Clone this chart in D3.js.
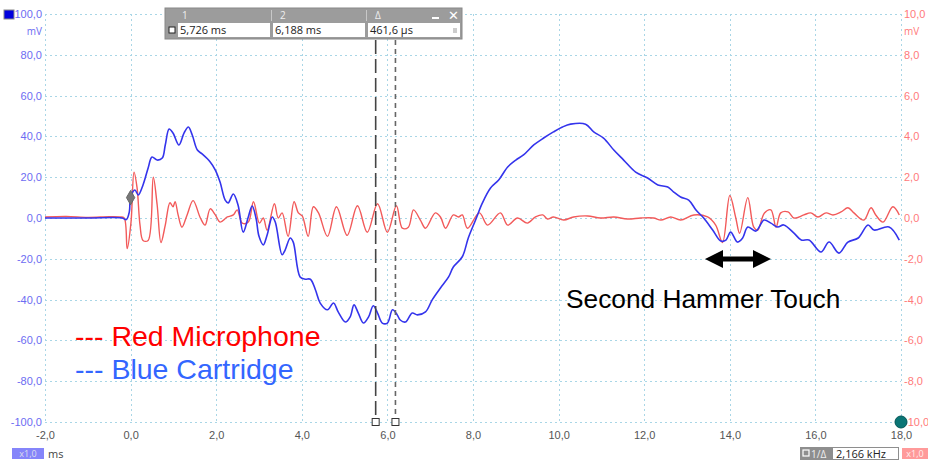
<!DOCTYPE html>
<html>
<head>
<meta charset="utf-8">
<script src="https://cdn.jsdelivr.net/npm/d3@7"></script>
<style>
  body { margin: 0; background: #fff; }
  svg { display: block; }
</style>
</head>
<body>
<div id="chart"></div>
<script>
// ----- data -----
const timeTicks = [-2, 0, 2, 4, 6, 8, 10, 12, 14, 16, 18];
const blueTicks = [100, 80, 60, 40, 20, 0, -20, -40, -60, -80, -100];
const redTicks = [10, 8, 6, 4, 2, 0, -2, -4, -6, -8, -10];

// blue cartridge, [ms, mV]
const blueSeries = [
  [-2.0, 0], [-1.0, 0], [-0.2, 0], [-0.1, -0.8], [-0.03, 3], [0.0, 10], [0.1, 13.7], [0.18, 11.3],
  [0.29, 16.2], [0.41, 24.5], [0.5, 29.9], [0.62, 28.4], [0.74, 29.4], [0.81, 35.8], [0.9, 43.6],
  [0.99, 41.7], [1.13, 35.8], [1.25, 41.7], [1.35, 44.6], [1.44, 40.7], [1.56, 33.3], [1.67, 31.4],
  [1.86, 27.5], [1.98, 23.5], [2.09, 17.6], [2.21, 8.8], [2.28, 7.4], [2.4, 11.8], [2.51, 6.4],
  [2.63, -6.9], [2.75, 0.5], [2.84, 5.9], [2.93, 0], [3.0, -9], [3.1, -13.2], [3.19, -8.3],
  [3.31, 0.5], [3.38, -2], [3.54, -18], [3.61, -15.7], [3.73, -9.8], [3.8, -11.8], [3.96, -28.9],
  [4.08, -30], [4.2, -30], [4.32, -35.3], [4.43, -41.7], [4.6, -45], [4.74, -41.7], [4.85, -46],
  [5.02, -51], [5.13, -48.5], [5.22, -42.6], [5.32, -46.6], [5.44, -51.5], [5.56, -48.5],
  [5.67, -43], [5.77, -46.6], [5.88, -51.5], [6.0, -51.5], [6.12, -45], [6.23, -47.5], [6.3, -50],
  [6.42, -51], [6.58, -46.6], [6.7, -47.5], [6.89, -46], [7.05, -40], [7.24, -34.3], [7.43, -28.9],
  [7.54, -24], [7.75, -19], [7.89, -9.8], [8.06, -1], [8.22, 7.4], [8.41, 14.7], [8.6, 18.6],
  [8.81, 25], [9.0, 28.4], [9.18, 30.9], [9.42, 35.8], [9.65, 39.2], [9.88, 42.2], [10.09, 44.6],
  [10.28, 46], [10.63, 46], [10.82, 42.2], [11.05, 39.2], [11.29, 33.3], [11.52, 28.4],
  [11.8, 22.5], [12.08, 19.6], [12.32, 16.2], [12.55, 15.2], [12.69, 12.7], [12.85, 10.3],
  [13.04, 8.8], [13.21, 3.9], [13.39, 0], [13.6, -5.9], [13.79, -11.3], [13.91, -10.8],
  [14.02, -6.9], [14.18, -11.8], [14.3, -9.8], [14.42, -4.4], [14.61, -6.4], [14.8, -1],
  [14.96, -2.5], [15.12, -4.4], [15.26, -3.4], [15.5, -7.4], [15.67, -10.8], [15.85, -10.8],
  [16.13, -16.7], [16.32, -11.8], [16.55, -17.2], [16.76, -11.8], [17.0, -9.8], [17.23, -3.4],
  [17.37, -5.9], [17.72, -4.4], [17.96, -10.8]
];

// red microphone, [ms, mV]
const redSeries = [
  [-2.0, 0.05], [-1.5, 0.08], [-1.0, 0.03], [-0.5, 0.06], [-0.25, 0.05], [-0.15, 0], [-0.08, -1.5],
  [0.01, -0.2], [0.08, 2.25], [0.15, 1.5], [0.22, -0.35], [0.29, -1.1], [0.41, -1.1], [0.53, 2.0],
  [0.62, 0.65], [0.71, -1.2], [0.81, -0.35], [0.92, 0.75], [0.99, 0.55], [1.04, 0.8], [1.11, 0.15],
  [1.2, -0.45], [1.32, 0.15], [1.46, 0.85], [1.63, 0], [1.74, -0.35], [1.86, 0.45], [1.98, 0.15],
  [2.09, -0.2], [2.26, 0.05], [2.4, 0.15], [2.49, 0.4], [2.61, -0.25], [2.75, -0.2], [2.87, 0.8],
  [3.01, -0.25], [3.1, 0], [3.19, -0.6], [3.36, 0.7], [3.45, 0], [3.54, 0.25], [3.68, -0.9],
  [3.82, 0.8], [3.92, 0.25], [4.01, 0.1], [4.15, -0.9], [4.27, 0.55], [4.39, 0.25], [4.6, -0.9],
  [4.81, 0.55], [5.06, -0.85], [5.3, 0.6], [5.53, -0.7], [5.77, 0.7], [6.0, -0.7], [6.21, 0.6],
  [6.35, -0.5], [6.49, -0.45], [6.61, 0.4], [6.77, -0.1], [6.89, -0.5], [7.12, 0.25], [7.24, 0.05],
  [7.36, -0.5], [7.54, 0.15], [7.66, 0.05], [7.75, 0.15], [7.87, -0.5], [8.15, 0.25], [8.34, -0.35],
  [8.64, 0.25], [8.81, -0.35], [9.04, 0], [9.27, -0.25], [9.46, 0.05], [9.63, 0.15], [9.74, -0.05],
  [9.88, 0.05], [10.12, -0.1], [10.35, 0.05], [10.68, 0.1], [10.98, 0], [11.29, 0.05],
  [11.61, -0.05], [11.92, 0], [12.22, 0], [12.39, -0.1], [12.62, 0.05], [12.85, -0.1], [13.16, 0.15],
  [13.48, 0.05], [13.67, -0.35], [13.83, -1.2], [14.0, 1.1], [14.14, 0], [14.23, -0.75], [14.42, 1.0],
  [14.56, -0.45], [14.65, -0.6], [14.81, 0.25], [14.96, 0.4], [15.08, -0.45], [15.19, 0.25],
  [15.36, 0.3], [15.5, 0], [15.73, 0.15], [15.89, 0.25], [16.06, 0.05], [16.25, 0.25], [16.41, 0.15],
  [16.6, 0.3], [16.76, 0.5], [16.9, 0.25], [17.13, -0.1], [17.3, 0.5], [17.41, 0.15], [17.58, -0.2],
  [17.81, 0.55], [17.96, 0.15]
];

const cursorTimes = [5.726, 6.188];
const cursorTable = ['5,726 ms', '6,188 ms', '461,6 µs'];
const freqLabel = '2,166 kHz';

// ----- layout -----
const width = 928;
const height = 460;
const margin = { top: 14, right: 27, bottom: 38, left: 45 };

const fmt = (v) => d3.format('.1f')(v).replace('.', ',').replace('−', '-');

const x = d3.scaleLinear().domain([-2, 18]).range([margin.left, width - margin.right]);
const yBlue = d3.scaleLinear().domain([-100, 100]).range([height - margin.bottom, margin.top]);
const yRed = d3.scaleLinear().domain([-10, 10]).range([height - margin.bottom, margin.top]);

const svg = d3.select('#chart')
  .append('svg')
  .attr('width', width)
  .attr('height', height)
  .style('font-family', '"Open Sans", "DejaVu Sans", sans-serif');

// grid
const grid = svg.append('g')
  .attr('stroke', '#a9d6e6')
  .attr('stroke-width', 1)
  .attr('stroke-dasharray', '2,3');

grid.selectAll('line.v')
  .data(timeTicks)
  .join('line')
  .attr('class', 'v')
  .attr('x1', d => Math.round(x(d)) + 0.5)
  .attr('x2', d => Math.round(x(d)) + 0.5)
  .attr('y1', yBlue(100))
  .attr('y2', yBlue(-100));

grid.selectAll('line.h')
  .data(blueTicks)
  .join('line')
  .attr('class', 'h')
  .attr('x1', x(-2))
  .attr('x2', x(18))
  .attr('y1', d => Math.round(yBlue(d)) + 0.5)
  .attr('y2', d => Math.round(yBlue(d)) + 0.5);

// left axis (blue)
const leftAxis = d3.axisLeft(yBlue).tickValues(blueTicks).tickFormat(fmt).tickSize(0).tickPadding(3);
const gLeft = svg.append('g')
  .attr('transform', `translate(${margin.left},0)`)
  .call(leftAxis);
gLeft.select('.domain').remove();
gLeft.selectAll('text')
  .attr('fill', '#6c6cf2')
  .attr('font-size', 11);

svg.append('text')
  .attr('x', margin.left - 3)
  .attr('y', yBlue(100) + 21)
  .attr('text-anchor', 'end')
  .attr('fill', '#6c6cf2')
  .attr('font-size', 10)
  .text('mV');

svg.append('rect')
  .attr('x', 4)
  .attr('y', 10)
  .attr('width', 10)
  .attr('height', 9)
  .attr('fill', '#0000dd')
  .attr('stroke', '#888')
  .attr('stroke-width', 1);

// right axis (red)
const rightAxis = d3.axisRight(yRed).tickValues(redTicks).tickFormat(fmt).tickSize(0).tickPadding(3);
const gRight = svg.append('g')
  .attr('transform', `translate(${width - margin.right},0)`)
  .call(rightAxis);
gRight.select('.domain').remove();
gRight.selectAll('text')
  .attr('fill', '#ff7a7a')
  .attr('font-size', 11);

svg.append('text')
  .attr('x', width - margin.right + 3)
  .attr('y', yRed(10) + 21)
  .attr('fill', '#ff7a7a')
  .attr('font-size', 10)
  .text('mV');

// bottom axis (time)
const bottomAxis = d3.axisBottom(x).tickValues(timeTicks).tickFormat(fmt).tickSize(0).tickPadding(9);
const gBottom = svg.append('g')
  .attr('transform', `translate(0,${height - margin.bottom})`)
  .call(bottomAxis);
gBottom.select('.domain').remove();
gBottom.selectAll('text')
  .attr('fill', '#555')
  .attr('font-size', 11);

// traces
const redLine = d3.line()
  .x(d => x(d[0]))
  .y(d => yRed(d[1]))
  .curve(d3.curveCatmullRom.alpha(0.5));

const blueLine = d3.line()
  .x(d => x(d[0]))
  .y(d => yBlue(d[1]))
  .curve(d3.curveCatmullRom.alpha(0.5));

svg.append('path')
  .datum(redSeries)
  .attr('fill', 'none')
  .attr('stroke', '#f25a5a')
  .attr('stroke-width', 1.4)
  .attr('stroke-linejoin', 'round')
  .attr('d', redLine);

svg.append('path')
  .datum(blueSeries)
  .attr('fill', 'none')
  .attr('stroke', '#3434ec')
  .attr('stroke-width', 1.6)
  .attr('stroke-linejoin', 'round')
  .attr('d', blueLine);

// trigger marker
svg.append('path')
  .attr('d', d3.symbol(d3.symbolDiamond, 60)())
  .attr('transform', `translate(${x(0)},${yBlue(10)})`)
  .attr('fill', '#777')
  .attr('stroke', '#666');

// cursors
const dashes = ['14,5', '5,4'];
svg.selectAll('line.cursor')
  .data(cursorTimes)
  .join('line')
  .attr('class', 'cursor')
  .attr('x1', d => x(d))
  .attr('x2', d => x(d))
  .attr('y1', 40)
  .attr('y2', yBlue(-100))
  .attr('stroke', (d, i) => i === 0 ? '#444' : '#666')
  .attr('stroke-width', 1.6)
  .attr('stroke-dasharray', (d, i) => dashes[i]);

svg.selectAll('rect.cursorMark')
  .data(cursorTimes)
  .join('rect')
  .attr('class', 'cursorMark')
  .attr('x', d => x(d) - 3.5)
  .attr('y', yBlue(-100) - 3.5)
  .attr('width', 7)
  .attr('height', 7)
  .attr('fill', '#fff')
  .attr('stroke', '#333');

// cursor table
const tbl = svg.append('g').attr('transform', 'translate(165,8)');
tbl.append('rect')
  .attr('width', 297)
  .attr('height', 31)
  .attr('fill', '#9c9c9c')
  .attr('stroke', '#888');
const colX = [0, 108, 203];
const colW = [105, 92, 92];
['1', '2', 'Δ'].forEach((h, i) => {
  tbl.append('text')
    .attr('x', colX[i] + (i === 0 ? 17 : 7))
    .attr('y', 11)
    .attr('fill', '#eee')
    .attr('font-size', 10)
    .text(h);
  if (i > 0) {
    tbl.append('line')
      .attr('x1', colX[i] - 1.5).attr('x2', colX[i] - 1.5)
      .attr('y1', 2).attr('y2', 13)
      .attr('stroke', '#c8c8c8');
  }
});
tbl.append('rect').attr('x', 267).attr('y', 9).attr('width', 7).attr('height', 2).attr('fill', '#fff');
tbl.append('text')
  .attr('x', 283).attr('y', 12)
  .attr('fill', '#fff').attr('font-size', 13).attr('font-weight', 'bold')
  .text('✕');
tbl.append('rect')
  .attr('x', 4).attr('y', 19).attr('width', 6).attr('height', 6)
  .attr('fill', '#fff').attr('stroke', '#222');
cursorTable.forEach((t, i) => {
  const cx = i === 0 ? 13 : colX[i];
  const cw = i === 0 ? colW[0] - 13 : colW[i];
  tbl.append('rect')
    .attr('x', cx).attr('y', 15).attr('width', cw).attr('height', 14)
    .attr('fill', '#fff');
  tbl.append('text')
    .attr('x', cx + 2).attr('y', 26)
    .attr('fill', '#222').attr('font-size', 11)
    .text(t);
});
tbl.append('rect').attr('x', 288).attr('y', 20).attr('width', 4).attr('height', 5).attr('fill', '#ccc');

// annotations
svg.append('text')
  .attr('x', 75).attr('y', 346)
  .attr('fill', '#ff0000')
  .attr('font-family', '"Liberation Sans", Arial, sans-serif')
  .attr('font-size', 28.5)
  .text('--- Red Microphone');

svg.append('text')
  .attr('x', 75).attr('y', 379)
  .attr('fill', '#3366ff')
  .attr('font-family', '"Liberation Sans", Arial, sans-serif')
  .attr('font-size', 28.5)
  .text('--- Blue Cartridge');

svg.append('text')
  .attr('x', 566).attr('y', 308)
  .attr('fill', '#000')
  .attr('font-family', '"Liberation Sans", Arial, sans-serif')
  .attr('font-size', 26.3)
  .text('Second Hammer Touch');

// double arrow
const ay = 259;
const ax1 = 705;
const ax2 = 771;
const head = 18;
svg.append('path')
  .attr('d', `M${ax1},${ay} L${ax1 + head},${ay - 9} L${ax1 + head},${ay - 2.5} L${ax2 - head},${ay - 2.5} L${ax2 - head},${ay - 9}
              L${ax2},${ay} L${ax2 - head},${ay + 9} L${ax2 - head},${ay + 2.5} L${ax1 + head},${ay + 2.5} L${ax1 + head},${ay + 9} Z`)
  .attr('fill', '#000');

// end marker
svg.append('circle')
  .attr('cx', x(18))
  .attr('cy', yRed(-10))
  .attr('r', 6)
  .attr('fill', '#0a7575')
  .attr('stroke', '#055');

// bottom badges
svg.append('rect').attr('x', 12).attr('y', 448).attr('width', 32).attr('height', 11).attr('fill', '#8585fa');
svg.append('text').attr('x', 28).attr('y', 457).attr('text-anchor', 'middle')
  .attr('fill', '#dde').attr('font-size', 9).text('x1,0');
svg.append('text').attr('x', 48).attr('y', 458).attr('fill', '#444').attr('font-size', 11).text('ms');

svg.append('rect').attr('x', 800).attr('y', 447).attr('width', 99).attr('height', 13).attr('fill', '#8e8e8e');
svg.append('rect').attr('x', 803).attr('y', 450).attr('width', 6).attr('height', 6)
  .attr('fill', 'none').attr('stroke', '#fff').attr('stroke-width', 1.2);
svg.append('text').attr('x', 811).attr('y', 458).attr('fill', '#eee').attr('font-size', 10).text('1/Δ');
svg.append('rect').attr('x', 833).attr('y', 448).attr('width', 65).attr('height', 11).attr('fill', '#fff');
svg.append('text').attr('x', 836).attr('y', 458).attr('fill', '#222').attr('font-size', 11).text(freqLabel);
svg.append('rect').attr('x', 902).attr('y', 448).attr('width', 26).attr('height', 11).attr('fill', '#ff9a9a');
svg.append('text').attr('x', 915).attr('y', 457).attr('text-anchor', 'middle')
  .attr('fill', '#fee').attr('font-size', 9).text('x1,0');
</script>
</body>
</html>
